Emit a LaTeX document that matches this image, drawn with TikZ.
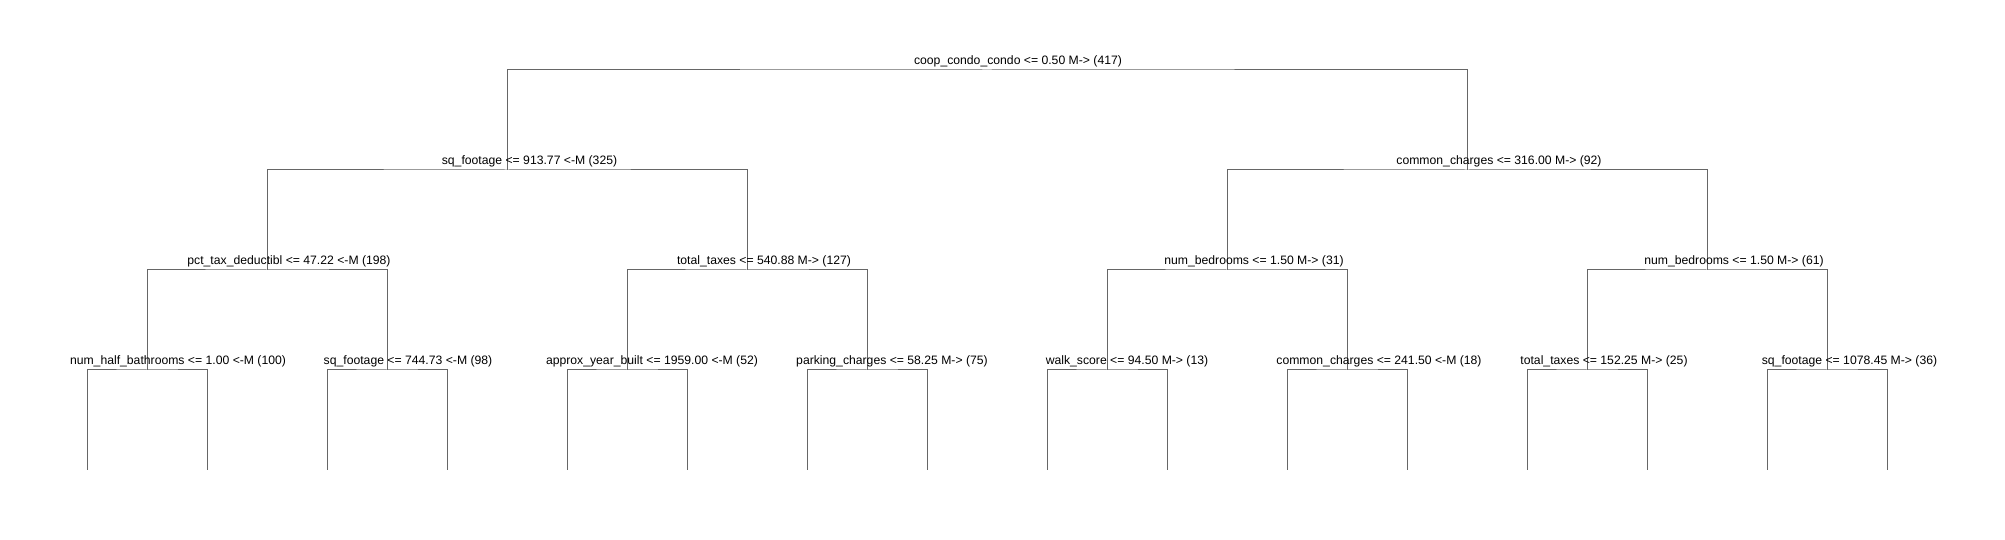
\documentclass[tikz,border=0pt]{standalone}
\usepackage{fontspec}
\setmainfont{Liberation Sans}
\begin{document}
\begin{tikzpicture}[x=1pt,y=1pt,
    branch/.style={draw=black!60, line width=1pt},
    split/.style={anchor=base, inner sep=0pt, font=\fontsize{12.2pt}{14pt}\selectfont}]
        \useasboundingbox (0,0) rectangle (2005,540);
        % split points of the tree
        \coordinate (n1) at (987,470);
        \coordinate (n2) at (507,370);
        \coordinate (n3) at (1467,370);
        \coordinate (n4) at (267,270);
        \coordinate (n5) at (747,270);
        \coordinate (n6) at (1227,270);
        \coordinate (n7) at (1707,270);
        \coordinate (n8) at (147,170);
        \coordinate (n9) at (387,170);
        \coordinate (n10) at (627,170);
        \coordinate (n11) at (867,170);
        \coordinate (n12) at (1107,170);
        \coordinate (n13) at (1347,170);
        \coordinate (n14) at (1587,170);
        \coordinate (n15) at (1827,170);
        \foreach \k in {1,...,16}
            \coordinate (l\k) at ({87+120*(\k-1)},70);
        % branches
        \draw[branch] (n2) |- (n1) -| (n3);
        \draw[branch] (n4) |- (n2) -| (n5);
        \draw[branch] (n6) |- (n3) -| (n7);
        \draw[branch] (n8) |- (n4) -| (n9);
        \draw[branch] (n10) |- (n5) -| (n11);
        \draw[branch] (n12) |- (n6) -| (n13);
        \draw[branch] (n14) |- (n7) -| (n15);
        \draw[branch] (l1) |- (n8) -| (l2);
        \draw[branch] (l3) |- (n9) -| (l4);
        \draw[branch] (l5) |- (n10) -| (l6);
        \draw[branch] (l7) |- (n11) -| (l8);
        \draw[branch] (l9) |- (n12) -| (l10);
        \draw[branch] (l11) |- (n13) -| (l12);
        \draw[branch] (l13) |- (n14) -| (l14);
        \draw[branch] (l15) |- (n15) -| (l16);
        % split labels
        \node [split] (t1) at (1018,475.5) {coop\_condo\_condo <= 0.50 M-> (417)};
        \node [split] (t2) at (529.5,375.5) {sq\_footage <= 913.77 <-M (325)};
        \node [split] (t3) at (1499,375.5) {common\_charges <= 316.00 M-> (92)};
        \node [split] (t4) at (289,275.5) {pct\_tax\_deductibl <= 47.22 <-M (198)};
        \node [split] (t5) at (764,275.5) {total\_taxes <= 540.88 M-> (127)};
        \node [split] (t6) at (1254,275.5) {num\_bedrooms <= 1.50 M-> (31)};
        \node [split] (t7) at (1734,275.5) {num\_bedrooms <= 1.50 M-> (61)};
        \node [split] (t8) at (178,175.5) {num\_half\_bathrooms <= 1.00 <-M (100)};
        \node [split] (t9) at (408,175.5) {sq\_footage <= 744.73 <-M (98)};
        \node [split] (t10) at (652,175.5) {approx\_year\_built <= 1959.00 <-M (52)};
        \node [split] (t11) at (892,175.5) {parking\_charges <= 58.25 M-> (75)};
        \node [split] (t12) at (1127,175.5) {walk\_score <= 94.50 M-> (13)};
        \node [split] (t13) at (1379,175.5) {common\_charges <= 241.50 <-M (18)};
        \node [split] (t14) at (1604,175.5) {total\_taxes <= 152.25 M-> (25)};
        \node [split] (t15) at (1849.5,175.5) {sq\_footage <= 1078.45 M-> (36)};
    \end{tikzpicture}
\end{document}
